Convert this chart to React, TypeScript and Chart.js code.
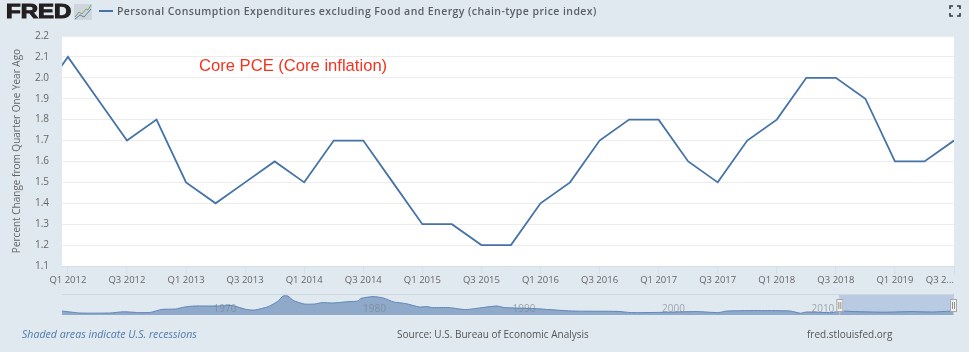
import React, { useEffect, useRef } from "react";
import { Chart, registerables } from "chart.js";

Chart.register(...registerables);

const FONT = '"Open Sans", sans-serif';
const BG = "#e1e9f0";

const quarterLabels = ["Q4 2011","Q1 2012","Q2 2012","Q3 2012","Q4 2012","Q1 2013","Q2 2013","Q3 2013","Q4 2013","Q1 2014","Q2 2014","Q3 2014","Q4 2014","Q1 2015","Q2 2015","Q3 2015","Q4 2015","Q1 2016","Q2 2016","Q3 2016","Q4 2016","Q1 2017","Q2 2017","Q3 2017","Q4 2017","Q1 2018","Q2 2018","Q3 2018","Q4 2018","Q1 2019","Q2 2019","Q3 2019"];
const pceValues = [1.9,2.1,1.9,1.7,1.8,1.5,1.4,1.5,1.6,1.5,1.7,1.7,1.5,1.3,1.3,1.2,1.2,1.4,1.5,1.7,1.8,1.8,1.6,1.5,1.7,1.8,2.0,2.0,1.9,1.6,1.6,1.7];
const navYears = [1959.1,1960.3,1962.3,1963.2,1964.3,1965,1965.8,1966.7,1967.3,1968,1969.4,1970.5,1971.4,1972,1972.9,1973.5,1973.9,1974.2,1974.6,1975.3,1976,1976.5,1977.2,1978.3,1978.9,1979.1,1979.9,1980.6,1981.3,1982.1,1983,1983.5,1983.9,1985,1986.1,1987.3,1988.2,1988.7,1990.7,1993.2,1996.3,1997.2,1999,2001.6,2003,2003.6,2005.9,2007.8,2008.5,2008.9,2010.6,2011.1,2012.1,2014.1,2015.9,2017.3,2018.6,2018.77];
const navValues = [2.0,1.0,1.0,1.6,1.2,1.3,2.8,3.0,4.0,4.5,4.5,4.7,2.8,2.5,4.2,6.7,9.5,9.5,7.2,5.5,5.5,6.2,6.0,6.7,7.0,8.3,9.2,8.5,6.5,5.7,4.0,4.2,3.7,3.7,2.7,3.8,4.5,3.7,3.2,2.0,1.8,1.2,1.3,1.7,1.2,2.0,2.2,2.0,0.9,1.5,1.2,2.0,1.7,1.4,1.7,1.5,1.9,1.7];
const navTickYears = [1970,1980,1990,2000,2010];

const SELECT_FROM = 2011.1;

const TITLE = "Personal Consumption Expenditures excluding Food and Energy (chain-type price index)";
const ANNOTATION = "Core PCE (Core inflation)";
const NOTE = "Shaded areas indicate U.S. recessions";
const SOURCE = "Source: U.S. Bureau of Economic Analysis";
const SITE = "fred.stlouisfed.org";

function text(ctx: any, s: string, x: number, y: number, font: string, color: string, align: string = "left", spacing = "0px") {
  ctx.font = font;
  ctx.fillStyle = color;
  ctx.textAlign = align;
  ctx.textBaseline = "middle";
  ctx.letterSpacing = spacing;
  ctx.fillText(s, x, y);
  ctx.letterSpacing = "0px";
}

const chromePlugin = {
  id: "chrome",
  beforeDraw(chart: any) {
    const { ctx, chartArea: a } = chart;
    ctx.save();
    ctx.fillStyle = BG;
    ctx.fillRect(0, 0, chart.width, chart.height);
    ctx.fillStyle = "#ffffff";
    ctx.fillRect(a.left, a.top, a.right - a.left, a.bottom - a.top);
    ctx.restore();
  },
  afterDraw(chart: any) {
    const { ctx } = chart;
    ctx.save();
    // logo word and badge
    ctx.save();
    ctx.translate(6, 0);
    ctx.scale(1.2, 1);
    ctx.strokeStyle = "#231f20";
    ctx.lineWidth = 1.1;
    ctx.font = '900 20px "Liberation Sans", sans-serif';
    ctx.textBaseline = "middle";
    ctx.textAlign = "left";
    ctx.strokeText("FRED", 0, 12.5);
    text(ctx, "FRED", 0, 12.5, '900 20px "Liberation Sans", sans-serif', "#231f20");
    ctx.restore();
    ctx.fillStyle = "#ced6dc";
    ctx.fillRect(74, 4, 18, 16);
    ctx.lineWidth = 1;
    ctx.strokeStyle = "#7ea26a";
    ctx.beginPath();
    ctx.moveTo(75, 17); ctx.lineTo(79, 12); ctx.lineTo(82, 14); ctx.lineTo(86, 9); ctx.lineTo(88, 10); ctx.lineTo(91, 5);
    ctx.stroke();
    ctx.strokeStyle = "#5b7fa8";
    ctx.beginPath();
    ctx.moveTo(75, 19); ctx.lineTo(80, 15); ctx.lineTo(84, 17); ctx.lineTo(91, 9);
    ctx.stroke();
    // legend
    ctx.strokeStyle = "#4572a7";
    ctx.lineWidth = 2;
    ctx.beginPath();
    ctx.moveTo(99, 11); ctx.lineTo(113, 11);
    ctx.stroke();
    text(ctx, TITLE, 117, 12, `600 10.5px ${FONT}`, "#5a5f66", "left", "0.42px");
    // fullscreen icon
    ctx.strokeStyle = "#333a40";
    ctx.lineWidth = 1.6;
    const [l, t, r, b, k] = [950, 6, 960, 16, 3];
    ctx.beginPath();
    ctx.moveTo(l, t + k); ctx.lineTo(l, t); ctx.lineTo(l + k, t);
    ctx.moveTo(r - k, t); ctx.lineTo(r, t); ctx.lineTo(r, t + k);
    ctx.moveTo(l, b - k); ctx.lineTo(l, b); ctx.lineTo(l + k, b);
    ctx.moveTo(r - k, b); ctx.lineTo(r, b); ctx.lineTo(r, b - k);
    ctx.stroke();
    // annotation
    text(ctx, ANNOTATION, 199, 66, '16.6px "Liberation Sans", sans-serif', "#f4321e");
    // last, shortened tick label
    const px = chart.scales.x.getPixelForValue(30);
    text(ctx, "Q3 2...", px, 280, `9.5px ${FONT}`, "#666666", "right");
    // footer
    text(ctx, NOTE, 22, 335, `italic 10.6px ${FONT}`, "#4f79ab");
    text(ctx, SOURCE, 397, 335, `10px ${FONT}`, "#555555");
    text(ctx, SITE, 807, 335, `10px ${FONT}`, "#555555");
    ctx.restore();
  },
};

const navPlugin = {
  id: "navChrome",
  beforeDatasetsDraw(chart: any) {
    const { ctx, chartArea: a, scales } = chart;
    const x0 = scales.x.getPixelForValue(SELECT_FROM);
    ctx.save();
    ctx.fillStyle = "#b9cbe2";
    ctx.fillRect(x0, a.top, a.right - x0, a.bottom - a.top);
    ctx.strokeStyle = "#cfd6dc";
    ctx.lineWidth = 1;
    ctx.beginPath();
    ctx.moveTo(a.left, a.top + 0.5); ctx.lineTo(a.right, a.top + 0.5);
    ctx.stroke();
    ctx.restore();
  },
  afterDraw(chart: any) {
    const { ctx, chartArea: a, scales } = chart;
    const x0 = scales.x.getPixelForValue(SELECT_FROM);
    ctx.save();
    ctx.strokeStyle = "#c4c9ce";
    ctx.lineWidth = 1;
    ctx.beginPath();
    ctx.moveTo(x0 + 0.5, a.top); ctx.lineTo(x0 + 0.5, a.bottom);
    ctx.moveTo(a.right - 0.5, a.top); ctx.lineTo(a.right - 0.5, a.bottom);
    ctx.stroke();
    for (const cx of [x0, a.right - 1]) {
      ctx.fillStyle = "#f2f2f2";
      ctx.strokeStyle = "#a8a8a8";
      ctx.fillRect(cx - 3, 299, 7, 13);
      ctx.strokeRect(cx - 2.5, 299.5, 6, 12);
      ctx.strokeStyle = "#8f8f8f";
      ctx.beginPath();
      ctx.moveTo(cx - 0.5, 302); ctx.lineTo(cx - 0.5, 309);
      ctx.moveTo(cx + 1.5, 302); ctx.lineTo(cx + 1.5, 309);
      ctx.stroke();
    }
    ctx.restore();
  },
};

const fullCanvas: React.CSSProperties = { position: "absolute", left: 0, top: 0, width: 969, height: 352 };

export default function App() {
  const mainRef = useRef<HTMLCanvasElement>(null);
  const navRef = useRef<HTMLCanvasElement>(null);

  useEffect(() => {
    const tickVals = quarterLabels.map((_, i) => i - 1).filter((v) => v >= 0 && v % 2 === 0 && v < 30);
    const main = new Chart(mainRef.current as HTMLCanvasElement, {
      type: "line",
      data: {
        datasets: [{
          label: TITLE,
          data: pceValues.map((y, i) => ({ x: i - 1, y })),
          borderColor: "#4572a7",
          borderWidth: 1.8,
          pointRadius: 0,
          tension: 0,
          fill: false,
        }],
      },
      options: {
        animation: false,
        responsive: false,
        events: [],
        layout: { padding: { left: 0, right: 15, top: 36, bottom: 0 } },
        plugins: { legend: { display: false }, tooltip: { enabled: false }, title: { display: false } },
        scales: {
          x: {
            type: "linear",
            min: -0.2,
            max: 30,
            afterBuildTicks: (s: any) => { s.ticks = [...tickVals, 30].map((value) => ({ value })); },
            afterFit: (s: any) => { s.height = 86; },
            grid: { drawOnChartArea: false, drawTicks: true, tickLength: 8, tickColor: "#d3deeb" },
            border: { color: "#d3deeb", width: 1 },
            ticks: {
              autoSkip: false,
              maxRotation: 0,
              padding: 1,
              color: "#666666",
              font: { family: FONT, size: 9.5 },
              callback: (v: any) => (v === 30 ? "" : quarterLabels[v + 1]),
            },
          },
          y: {
            type: "linear",
            min: 1.1,
            max: 2.2,
            afterFit: (s: any) => { s.width = 62; },
            grid: { color: "#ececec", drawTicks: false, lineWidth: 1 },
            border: { display: false },
            ticks: {
              stepSize: 0.1,
              padding: 13,
              color: "#666666",
              font: { family: FONT, size: 10 },
              callback: (v: any) => Number(v).toFixed(1),
            },
            title: {
              display: true,
              text: "Percent Change from Quarter One Year Ago",
              color: "#666666",
              font: { family: FONT, size: 10 },
              padding: { top: 11, bottom: 0 },
            },
          },
        },
      },
      plugins: [chromePlugin],
    } as any);

    const nav = new Chart(navRef.current as HTMLCanvasElement, {
      type: "line",
      data: {
        datasets: [{
          data: navYears.map((x, i) => ({ x, y: navValues[i] })),
          borderColor: "#5f86b5",
          borderWidth: 1,
          backgroundColor: "#8fa9ca",
          pointRadius: 0,
          tension: 0.2,
          fill: "origin",
        }],
      },
      options: {
        animation: false,
        responsive: false,
        events: [],
        layout: { padding: { left: 62, right: 15, top: 294, bottom: 37 } },
        plugins: { legend: { display: false }, tooltip: { enabled: false } },
        scales: {
          x: {
            type: "linear",
            min: 1959.1,
            max: 2018.77,
            afterBuildTicks: (s: any) => { s.ticks = navTickYears.map((value) => ({ value })); },
            afterFit: (s: any) => { s.height = 0; },
            grid: { display: false, drawTicks: false },
            border: { display: false },
            ticks: {
              autoSkip: false,
              maxRotation: 0,
              mirror: true,
              padding: 0,
              z: 1,
              color: "rgba(120,130,142,0.65)",
              font: { family: FONT, size: 10 },
              callback: (v: any) => String(v),
            },
          },
          y: { type: "linear", min: 0, max: 10.5, display: false },
        },
      },
      plugins: [navPlugin],
    } as any);

    return () => { main.destroy(); nav.destroy(); };
  }, []);

  return (
    <div style={{ position: "absolute", left: 0, top: 0, width: 969, height: 352, background: BG }}>
      <canvas ref={mainRef} width={969} height={352} style={fullCanvas} />
      <canvas ref={navRef} width={969} height={352} style={fullCanvas} />
    </div>
  );
}
